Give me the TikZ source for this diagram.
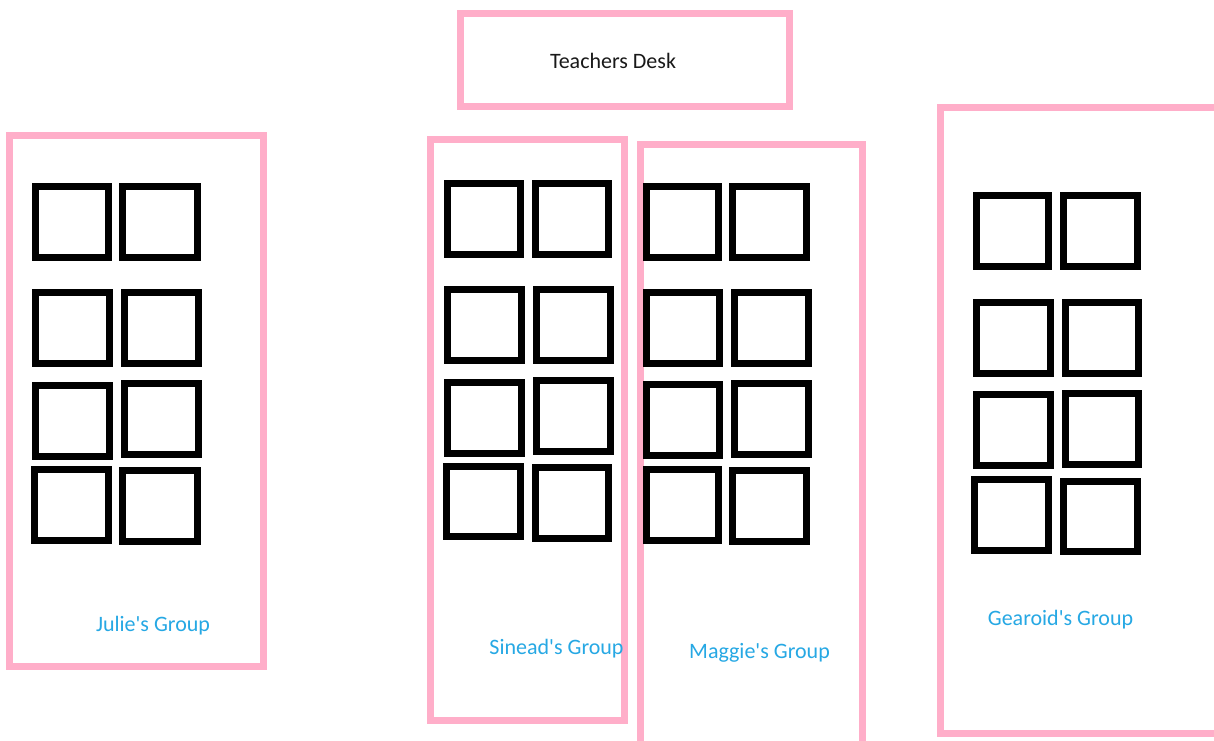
\documentclass[tikz,border=0pt]{standalone}
\usepackage{fontspec}
\setmainfont{Carlito}
\usetikzlibrary{fit}
\definecolor{rosepink}{RGB}{255,174,201}
\definecolor{grouptext}{RGB}{38,168,228}
\tikzset{
  seat/.style={draw=black, line width=7pt, inner sep=0pt, rectangle},
  area/.style={draw=rosepink, line width=7pt, inner sep=0pt, rectangle},
  grouplabel/.style={text=grouptext, inner sep=0pt, font=\fontsize{22}{26}\selectfont},
  desklabel/.style={text=black!90, inner sep=0pt, font=\fontsize{22}{26}\selectfont},
}
\newcommand\seatrect[5]{\node[seat, fit={(#2,#3) (#4,#5)}] (#1) {};}
\newcommand\arearect[5]{\node[area, fit={(#2,#3) (#4,#5)}] (#1) {};}
\begin{document}
\begin{tikzpicture}[x=1pt,y=-1pt]
\useasboundingbox (0,0) rectangle (1214,740);
\fill[white] (0,0) rectangle (1214,740);
\clip (0,0) rectangle (1214,740);
% teacher's desk
\arearect{desk}{460.5}{13.5}{789.5}{106.5}
\node[desklabel] (desktext) at (613,61) {Teachers Desk};
% group areas
\arearect{julie}{9.5}{135.5}{263.5}{666.5}
\arearect{sinead}{430.5}{139.5}{624.5}{720.5}
\arearect{maggie}{640.5}{144.5}{862.5}{750}
\arearect{gearoid}{940.5}{107.5}{1230}{733.5}
% Julie's seats
\seatrect{j11}{35.5}{186.5}{108.5}{257.5}
\seatrect{j12}{122.5}{186.5}{197.5}{257.5}
\seatrect{j21}{35.5}{292.5}{109.5}{363.5}
\seatrect{j22}{124.5}{292.5}{198.5}{363.5}
\seatrect{j31}{35.5}{385.5}{109.5}{456.5}
\seatrect{j32}{124.5}{383.5}{198.5}{454.5}
\seatrect{j41}{34.5}{469.5}{108.5}{540.5}
\seatrect{j42}{122.5}{470.5}{197.5}{541.5}
% Sinead's seats
\seatrect{s11}{447.5}{183.5}{520.5}{254.5}
\seatrect{s12}{535.5}{183.5}{608.5}{254.5}
\seatrect{s21}{447.5}{289.5}{521.5}{360.5}
\seatrect{s22}{536.5}{289.5}{610.5}{360.5}
\seatrect{s31}{447.5}{382.5}{521.5}{453.5}
\seatrect{s32}{536.5}{380.5}{610.5}{451.5}
\seatrect{s41}{446.5}{466.5}{520.5}{536.5}
\seatrect{s42}{535.5}{467.5}{608.5}{538.5}
% Maggie's seats
\seatrect{m11}{646.5}{186.5}{718.5}{257.5}
\seatrect{m12}{732.5}{186.5}{806.5}{257.5}
\seatrect{m21}{646.5}{292.5}{719.5}{363.5}
\seatrect{m22}{734.5}{292.5}{808.5}{363.5}
\seatrect{m31}{646.5}{384.5}{719.5}{455.5}
\seatrect{m32}{734.5}{383.5}{808.5}{454.5}
\seatrect{m41}{646.5}{469.5}{718.5}{540.5}
\seatrect{m42}{732.5}{470.5}{806.5}{541.5}
% Gearoid's seats
\seatrect{g11}{976.5}{195.5}{1048.5}{266.5}
\seatrect{g12}{1063.5}{195.5}{1137.5}{266.5}
\seatrect{g21}{976.5}{302.5}{1050.5}{373.5}
\seatrect{g22}{1065.5}{302.5}{1138.5}{373.5}
\seatrect{g31}{976.5}{394.5}{1050.5}{465.5}
\seatrect{g32}{1065.5}{393.5}{1138.5}{464.5}
\seatrect{g41}{974.5}{479.5}{1048.5}{550.5}
\seatrect{g42}{1063.5}{481.5}{1137.5}{551.5}
% labels
\node[grouplabel] (julietext) at (153,626) {Julie\textquotesingle s Group};
\node[grouplabel] (sineadtext) at (556.5,649) {Sinead\textquotesingle s Group};
\node[grouplabel] (maggietext) at (759.5,653) {Maggie\textquotesingle s Group};
\node[grouplabel] (gearoidtext) at (1060.5,620) {Gearoid\textquotesingle s Group};
\end{tikzpicture}
\end{document}
